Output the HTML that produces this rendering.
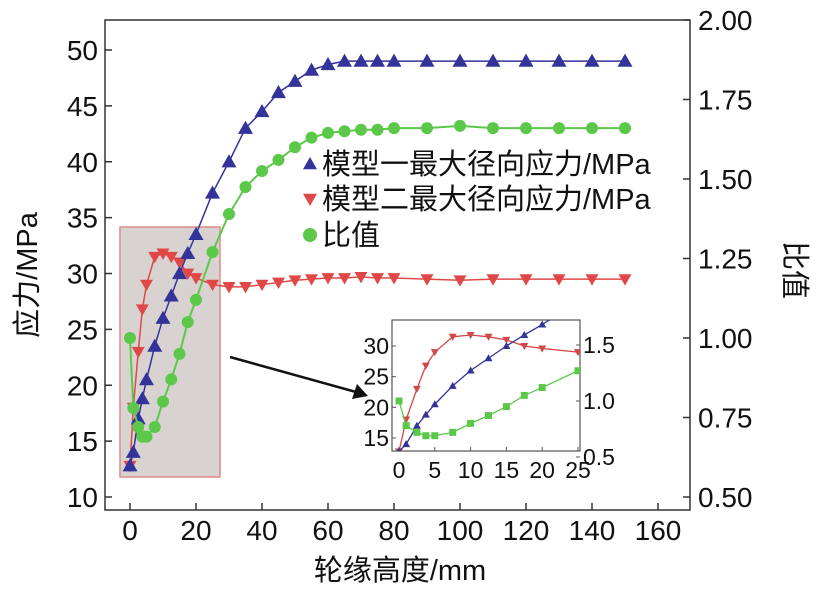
<!DOCTYPE html>
<html><head><meta charset="utf-8"><style>
body{margin:0;background:#fff;}
text{font-family:"Liberation Sans","Noto Sans CJK SC",sans-serif;fill:#111;}
</style></head><body>
<svg id="c" width="819" height="588" viewBox="0 0 819 588" xmlns="http://www.w3.org/2000/svg"></svg>
<script>
const xs=[0,1,2.5,3.75,5,7.5,10,12.5,15,17.5,20,25,30,35,40,45,50,55,60,65,70,75,80,90,100,110,120,130,140,150];
const model1=[12.8,14,17,18.8,20.5,23.5,26,28,30,31.8,33.5,37.2,40,43,44.5,46.2,47.2,48.2,48.7,49,49,49,49,49,49,49,49,49,49,49];
const model2=[12.8,18,23,26.8,29,31.5,31.8,31.5,31,30,29.6,29,28.8,28.8,29,29.2,29.4,29.5,29.6,29.6,29.7,29.6,29.6,29.5,29.4,29.5,29.5,29.5,29.5,29.5];
const ratio=[1.0,0.78,0.72,0.69,0.69,0.72,0.8,0.87,0.95,1.05,1.12,1.27,1.39,1.475,1.525,1.56,1.6,1.63,1.645,1.65,1.655,1.655,1.66,1.66,1.667,1.66,1.66,1.66,1.66,1.66];
const xTicks=[0,20,40,60,80,100,120,140,160];
const yTicks=[10,15,20,25,30,35,40,45,50];
const y2Ticks=["0.50","0.75","1.00","1.25","1.50","1.75","2.00"];
const insetXTicks=[0,5,10,15,20,25];
const insetYTicks=[15,20,25,30];
const insetY2Ticks=["0.5","1.0","1.5"];

const svg=document.getElementById('c');
const NS='http://www.w3.org/2000/svg';
function el(t,a,p){const e=document.createElementNS(NS,t);for(const k in a)e.setAttribute(k,a[k]);(p||svg).appendChild(e);return e;}
const X=v=>130+v*3.3, Y=v=>497-(v-10)*11.175, Y2=v=>497-(v-0.5)*318;
const IX=v=>399+v*7.16, IY=v=>346+(30-v)*6.13, IY2=v=>345+(1.5-v)*112;

function tri(g,x,y,s,up,col){const p=up?`${x},${y-s} ${x-s},${y+s*0.75} ${x+s},${y+s*0.75}`:`${x},${y+s} ${x-s},${y-s*0.75} ${x+s},${y-s*0.75}`;return el('polygon',{points:p,fill:col},g);}

const frame=el('rect',{x:105,y:20,width:585,height:490,fill:'none',stroke:'#333','stroke-width':1.5});


const zr=el('rect',{x:120,y:227,width:100,height:250,fill:'#d8d3d1',stroke:'#e08a8a','stroke-width':1.5});


const gx=el('g',{});
xTicks.forEach(v=>{el('line',{x1:X(v),x2:X(v),y1:510,y2:503,stroke:'#333','stroke-width':1.5},gx);const t=el('text',{x:X(v),y:540,'font-size':28,'text-anchor':'middle'},gx);t.textContent=v;});
const gy=el('g',{});
yTicks.forEach(v=>{el('line',{x1:105,x2:112,y1:Y(v),y2:Y(v),stroke:'#333','stroke-width':1.5},gy);const t=el('text',{x:98,y:Y(v)+10,'font-size':28,'text-anchor':'end'},gy);t.textContent=v;});
const gy2=el('g',{});
y2Ticks.forEach(s=>{const v=parseFloat(s);el('line',{x1:690,x2:683,y1:Y2(v),y2:Y2(v),stroke:'#333','stroke-width':1.5},gy2);const t=el('text',{x:698,y:Y2(v)+10,'font-size':28},gy2);t.textContent=s;});

let t=el('text',{x:400,y:580,'font-size':29,'text-anchor':'middle'});t.textContent='轮缘高度/mm';

t=el('text',{x:0,y:0,'font-size':29,'text-anchor':'middle',transform:'translate(37,275) rotate(-90)'});t.textContent='应力/MPa';

t=el('text',{x:0,y:0,'font-size':29,'text-anchor':'middle',transform:'translate(785,270) rotate(90)'});t.textContent='比值';


function series(name,xv,yv,fx,fy,col,kind,s,w){
 const g=el('g',{});
 el('polyline',{points:xv.map((x,i)=>fx(x)+','+fy(yv[i])).join(' '),fill:'none',stroke:col,'stroke-width':w},g);
 xv.forEach((x,i)=>{let m;
  if(kind==='up')m=tri(g,fx(x),fy(yv[i]),s,true,col);
  else if(kind==='down')m=tri(g,fx(x),fy(yv[i]),s,false,col);
  else if(kind==='circle')m=el('circle',{cx:fx(x),cy:fy(yv[i]),r:s,fill:col},g);
  else m=el('rect',{x:fx(x)-s,y:fy(yv[i])-s,width:2*s,height:2*s,fill:col},g);
  });
}
series('model2-series',xs,model2,X,Y,'#e04848','down',6.5,1.5);
series('model1-series',xs,model1,X,Y,'#333399','up',7.5,1.5);
series('ratio-series',xs,ratio,X,Y2,'#5cc84a','circle',6,2);

const lg=el('g',{});
[['up','#333399','模型一最大径向应力/MPa',174],['down','#e04848','模型二最大径向应力/MPa',209],['circle','#5cc84a','比值',245]].forEach(([k,c,s,y])=>{
 const e=el('g',{},lg);
 if(k==='circle')el('circle',{cx:310,cy:y-10,r:7,fill:c},e);else tri(e,310,y-10,7,k==='up',c);
 const tt=el('text',{x:322,y:y,'font-size':29},e);tt.textContent=s;});

const ar=el('g',{});
el('line',{x1:230,y1:357,x2:356,y2:392,stroke:'#111','stroke-width':2.5},ar);
el('polygon',{points:'368,396 352,399 357,384',fill:'#111'},ar);

const ins=el('g',{});
el('rect',{x:392,y:320,width:188,height:131,fill:'#fff',stroke:'#555','stroke-width':1.2},ins);
insetXTicks.forEach(v=>{el('line',{x1:IX(v),x2:IX(v),y1:451,y2:447,stroke:'#555'},ins);const q=el('text',{x:IX(v),y:478,'font-size':23,'text-anchor':'middle'},ins);q.textContent=v;});
insetYTicks.forEach(v=>{el('line',{x1:392,x2:396,y1:IY(v),y2:IY(v),stroke:'#555'},ins);const q=el('text',{x:389,y:IY(v)+8,'font-size':23,'text-anchor':'end'},ins);q.textContent=v;});
insetY2Ticks.forEach(s=>{const v=parseFloat(s);el('line',{x1:580,x2:576,y1:IY2(v),y2:IY2(v),stroke:'#555'},ins);const q=el('text',{x:583,y:IY2(v)+8,'font-size':23},ins);q.textContent=s;});
const n=12;
const cl=el('clipPath',{id:'ic'});el('rect',{x:392,y:320,width:188,height:131},cl);
const ig=el('g',{'clip-path':'url(#ic)'},ins);
function iseries(name,yv,fy,col,kind,s){
 const g=el('g',{},ig);
 const xv=xs.slice(0,n);
 el('polyline',{points:xv.map((x,i)=>IX(x)+','+fy(yv[i])).join(' '),fill:'none',stroke:col,'stroke-width':1.3},g);
 xv.forEach((x,i)=>{let m;
  if(kind==='sq')m=el('rect',{x:IX(x)-s,y:fy(yv[i])-s,width:2*s,height:2*s,fill:col},g);
  else m=tri(g,IX(x),fy(yv[i]),s,kind==='up',col);
  });
}
iseries('inset-model2',model2,IY,'#d04848','down',4);
iseries('inset-model1',model1,IY,'#333399','up',4);
iseries('inset-ratio',ratio,IY2,'#5cc84a','sq',3.5);
</script>
</body></html>
